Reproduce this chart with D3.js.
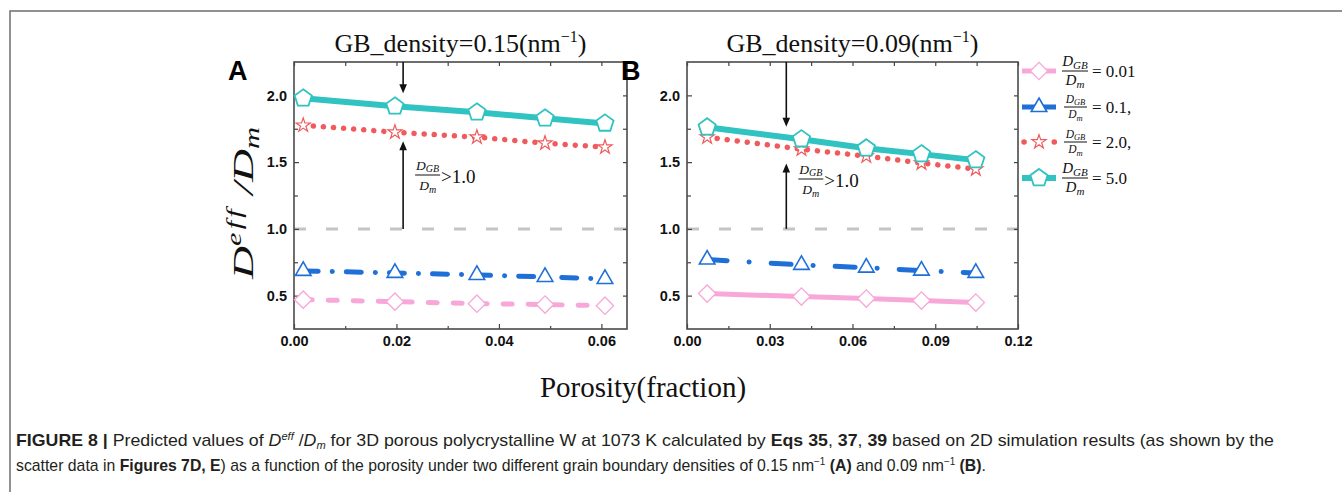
<!DOCTYPE html>
<html>
<head>
<meta charset="utf-8">
<script src="https://cdn.jsdelivr.net/npm/d3@7"></script>
<style>
  body { margin: 0; background: #fff; }
  svg { display: block; }
  .tick text { font-family: Arial, "Liberation Sans", sans-serif; font-weight: bold; font-size: 14.5px; fill: #111; }
</style>
</head>
<body>
<div id="chart"></div>
<script>
// values
const porosityA = [0.0018, 0.0197, 0.0357, 0.049, 0.0607];
const ratio001A = [0.47, 0.455, 0.44, 0.433, 0.425];
const ratio01A = [0.685, 0.67, 0.655, 0.64, 0.625];
const ratio2A = [1.776, 1.724, 1.687, 1.642, 1.612];
const ratio5A = [1.978, 1.918, 1.873, 1.828, 1.79];

const porosityB = [0.0073, 0.0415, 0.065, 0.085, 0.1047];
const ratio001B = [0.515, 0.493, 0.478, 0.463, 0.448];
const ratio01B = [0.77, 0.73, 0.71, 0.687, 0.67];
const ratio2B = [1.687, 1.597, 1.545, 1.493, 1.448];
const ratio5B = [1.761, 1.672, 1.604, 1.56, 1.515];

const seriesLabels = ["0.01", "0.1,", "2.0,", "5.0"];
const titlesDensity = ["0.15", "0.09"];
const panelLetters = ["A", "B"];

const xTicksA = [0, 0.02, 0.04, 0.06];
const xMinorA = [0.01, 0.03, 0.05];
const xTicksB = [0, 0.03, 0.06, 0.09, 0.12];
const xMinorB = [0.015, 0.045, 0.075, 0.105];
const yTicks = [0.5, 1.0, 1.5, 2.0];
const yMinor = [0.75, 1.25, 1.75];

// layout
const WIDTH = 1342, HEIGHT = 492;
const PLOT_TOP = 62, PLOT_BOTTOM = 329;
const Y_DOMAIN = [0.25, 2.25];
const FONT_SERIF = "'Liberation Serif', 'Times New Roman', serif";
const FONT_SANS = "Arial, 'Liberation Sans', sans-serif";

const PINK = "#f7a8d9", BLUE = "#1f6fd8", RED = "#f05a5c", TEAL = "#31c2c2";

// regular pentagon symbol
const symbolPentagon = {
  draw(ctx, size) {
    const r = Math.sqrt(size / 2.3776);
    for (let i = 0; i < 5; i++) {
      const a = -Math.PI / 2 + i * 2 * Math.PI / 5;
      if (i === 0) ctx.moveTo(r * Math.cos(a), r * Math.sin(a));
      else ctx.lineTo(r * Math.cos(a), r * Math.sin(a));
    }
    ctx.closePath();
  }
};

const seriesStyle = [
  { color: PINK, width: 5, symbol: d3.symbolSquare, size: 150, rotate: 45, mstroke: 1.3 },
  { color: BLUE, width: 5, symbol: d3.symbolTriangle, size: 105, rotate: 0, mstroke: 1.6 },
  { color: RED, width: 5.5, symbol: d3.symbolStar, size: 62, rotate: 0, mstroke: 1.2 },
  { color: TEAL, width: 6, symbol: symbolPentagon, size: 195, rotate: 0, mstroke: 1.8 }
];

const panels = [
  {
    left: 294, right: 627, xDomain: [0, 0.065], xTicks: xTicksA, xMinor: xMinorA,
    porosity: porosityA, series: [ratio001A, ratio01A, ratio2A, ratio5A],
    dashes: ["9,16", "15,14,0.1,14", "0.1,10", null],
    arrow: { x: 0.0213, downTip: 2.015, upTip: 1.657 }, noteY: 175,
    yTitle: true
  },
  {
    left: 687, right: 1018, xDomain: [0, 0.12], xTicks: xTicksB, xMinor: xMinorB,
    porosity: porosityB, series: [ratio001B, ratio01B, ratio2B, ratio5B],
    dashes: [null, "20,22,0.1,22", "0.1,10", null],
    arrow: { x: 0.036, downTip: 1.765, upTip: 1.49 }, noteY: 179,
    yTitle: false
  }
];

const svg = d3.select("#chart").append("svg")
  .attr("width", WIDTH).attr("height", HEIGHT);

// figure frame (top and left edge)
svg.append("path").attr("d", `M10,${HEIGHT} V11 H${WIDTH}`)
  .attr("fill", "none").attr("stroke", "#6e6e6e").attr("stroke-width", 1.5);

panels.forEach((p, i) => drawPanel(p, i));
drawLegend();

// shared x axis title
svg.append("text").attr("x", 643).attr("y", 397).attr("text-anchor", "middle")
  .style("font-family", FONT_SERIF).style("font-size", "29px").attr("fill", "#111")
  .text("Porosity(fraction)");

drawCaption();

function drawPanel(p, idx) {
  const x = d3.scaleLinear().domain(p.xDomain).range([p.left, p.right]);
  const y = d3.scaleLinear().domain(Y_DOMAIN).range([PLOT_BOTTOM, PLOT_TOP]);
  const g = svg.append("g");

  // reference line at 1.0
  g.append("line")
    .attr("x1", p.left).attr("x2", p.right).attr("y1", y(1)).attr("y2", y(1))
    .attr("stroke", "#c4c4c4").attr("stroke-width", 3).attr("stroke-dasharray", "12,20");

  // axes with inward ticks
  g.append("g").attr("transform", `translate(0,${PLOT_BOTTOM})`)
    .call(d3.axisBottom(x).tickValues(p.xTicks).tickSize(-5).tickSizeOuter(0).tickPadding(7).tickFormat(d3.format(".2f")));
  g.append("g").attr("transform", `translate(0,${PLOT_BOTTOM})`)
    .call(d3.axisBottom(x).tickValues(p.xMinor).tickSize(-3).tickSizeOuter(0).tickFormat(""));
  g.append("g").attr("transform", `translate(0,${PLOT_TOP})`)
    .call(d3.axisTop(x).tickValues(p.xTicks.concat(p.xMinor)).tickSize(-4).tickSizeOuter(0).tickFormat(""));
  g.append("g").attr("transform", `translate(${p.left},0)`)
    .call(d3.axisLeft(y).tickValues(yTicks).tickSize(-5).tickSizeOuter(0).tickPadding(7).tickFormat(d3.format(".1f")));
  g.append("g").attr("transform", `translate(${p.left},0)`)
    .call(d3.axisLeft(y).tickValues(yMinor).tickSize(-4).tickSizeOuter(0).tickFormat(""));
  g.append("g").attr("transform", `translate(${p.right},0)`)
    .call(d3.axisRight(y).tickValues(yTicks.concat(yMinor)).tickSize(-4).tickSizeOuter(0).tickFormat(""));
  g.selectAll(".domain").remove();
  g.selectAll(".tick line").attr("stroke", "#444").attr("stroke-width", 1.2);

  g.append("rect")
    .attr("x", p.left).attr("y", PLOT_TOP)
    .attr("width", p.right - p.left).attr("height", PLOT_BOTTOM - PLOT_TOP)
    .attr("fill", "none").attr("stroke", "#4a4a4a").attr("stroke-width", 1.6);

  // series lines
  const line = d3.line().x(d => x(d[0])).y(d => y(d[1]));
  p.series.forEach((vals, k) => {
    const st = seriesStyle[k];
    const pts = p.porosity.map((px, j) => [px, vals[j]]);
    g.append("path").datum(pts)
      .attr("d", line)
      .attr("fill", "none")
      .attr("stroke", st.color)
      .attr("stroke-width", st.width)
      .attr("stroke-linecap", p.dashes[k] ? "round" : "butt")
      .attr("stroke-dasharray", p.dashes[k]);
  });
  // markers on top
  p.series.forEach((vals, k) => {
    const st = seriesStyle[k];
    const sym = d3.symbol(st.symbol, st.size);
    g.selectAll(null).data(p.porosity.map((px, j) => [px, vals[j]]))
      .enter().append("path")
      .attr("d", sym)
      .attr("transform", d => `translate(${x(d[0])},${y(d[1])}) rotate(${st.rotate})`)
      .attr("fill", "#fff")
      .attr("stroke", st.color)
      .attr("stroke-width", st.mstroke);
  });

  // arrows
  const ax = x(p.arrow.x);
  drawArrow(g, ax, PLOT_TOP, y(p.arrow.downTip));
  drawArrow(g, ax, y(1), y(p.arrow.upTip));

  // annotation  D_GB / D_m > 1.0
  const nx = ax + 12, ny = p.noteY;
  fraction(g, nx + 12.5, ny, 13.5, 10, 12.5, -5, 15);
  g.append("text").attr("x", nx + 26).attr("y", ny + 8)
    .style("font-family", FONT_SERIF).style("font-size", "19px").attr("fill", "#111")
    .text(">1.0");

  // title
  const t = g.append("text").attr("x", (p.left + p.right) / 2).attr("y", 52)
    .attr("text-anchor", "middle")
    .style("font-family", FONT_SERIF).style("font-size", "26px").attr("fill", "#111");
  t.append("tspan").text(`GB_density=${titlesDensity[idx]}(nm`);
  t.append("tspan").attr("dy", -10).style("font-size", "16px").text("\u22121");
  t.append("tspan").attr("dy", 10).text(")");

  // panel letter
  g.append("text").attr("x", p.left - 66).attr("y", 80)
    .style("font-family", FONT_SANS).style("font-weight", "bold").style("font-size", "27px")
    .attr("fill", "#000").text(panelLetters[idx]);

  if (p.yTitle) {
    const yt = g.append("text").attr("transform", "translate(253,203) rotate(-90)")
      .attr("text-anchor", "middle")
      .attr("textLength", 152).attr("lengthAdjust", "spacingAndGlyphs")
      .style("font-family", FONT_SERIF).style("font-style", "italic").style("font-size", "30px")
      .attr("fill", "#111");
    yt.append("tspan").text("D");
    yt.append("tspan").attr("dy", -12).style("font-size", "20px").style("letter-spacing", "2px").text("eff");
    yt.append("tspan").attr("dy", 12).text(" /D");
    yt.append("tspan").attr("dy", 6).style("font-size", "20px").text("m");
  }
}

function drawArrow(g, x0, yFrom, yTip) {
  const dir = yTip > yFrom ? 1 : -1;
  g.append("line").attr("x1", x0).attr("x2", x0).attr("y1", yFrom).attr("y2", yTip - dir * 6)
    .attr("stroke", "#111").attr("stroke-width", 1.6);
  g.append("path")
    .attr("d", `M${x0 - 3.8},${yTip - dir * 9} L${x0 + 3.8},${yTip - dir * 9} L${x0},${yTip} Z`)
    .attr("fill", "#111");
}

// D_GB over D_m, centred at cx with bar at y
function fraction(g, cx, y, size, subSize, halfBar, numDy, denDy) {
  const fam = FONT_SERIF;
  const num = g.append("text").attr("x", cx).attr("y", y + numDy).attr("text-anchor", "middle")
    .style("font-family", fam).style("font-style", "italic").style("font-size", size + "px").attr("fill", "#111");
  num.append("tspan").text("D");
  num.append("tspan").attr("dy", size * 0.18).style("font-size", subSize + "px").text("GB");
  g.append("line").attr("x1", cx - halfBar).attr("x2", cx + halfBar).attr("y1", y).attr("y2", y)
    .attr("stroke", "#111").attr("stroke-width", 1);
  const den = g.append("text").attr("x", cx).attr("y", y + denDy).attr("text-anchor", "middle")
    .style("font-family", fam).style("font-style", "italic").style("font-size", size + "px").attr("fill", "#111");
  den.append("tspan").text("D");
  den.append("tspan").attr("dy", size * 0.22).style("font-size", subSize + "px").text("m");
}

function drawLegend() {
  const rows = [71, 107, 142, 178];
  const big = [true, false, false, true];
  const lg = svg.append("g");
  seriesLabels.forEach((lab, k) => {
    const st = seriesStyle[k];
    const yy = rows[k];
    const ln = lg.append("line").attr("y1", yy).attr("y2", yy)
      .attr("stroke", st.color).attr("stroke-width", st.width);
    if (k === 2) {
      ln.attr("x1", 1024).attr("x2", 1055).attr("stroke-linecap", "round").attr("stroke-dasharray", "0.1,15");
    } else {
      ln.attr("x1", 1022).attr("x2", 1056);
    }
    lg.append("path").attr("d", d3.symbol(st.symbol, st.size))
      .attr("transform", `translate(1039,${yy}) rotate(${st.rotate})`)
      .attr("fill", "#fff").attr("stroke", st.color).attr("stroke-width", st.mstroke);
    if (big[k]) fraction(lg, 1075, yy, 15, 11, 13, -5, 14);
    else fraction(lg, 1075.5, yy, 11.5, 8.5, 11.5, -4, 11);
    lg.append("text").attr("x", 1092).attr("y", yy + 6)
      .style("font-family", FONT_SERIF).style("font-size", "17px").attr("fill", "#111")
      .text("= " + lab);
  });
}

function drawCaption() {
  const line1 = [
    { t: "FIGURE 8 | ", b: 1 }, { t: "Predicted values of " }, { t: "D", i: 1 }, { t: "eff", i: 1, s: "sup" },
    { t: " /" }, { t: "D", i: 1 }, { t: "m", i: 1, s: "sub" },
    { t: " for 3D porous polycrystalline W at 1073 K calculated by " }, { t: "Eqs 35", b: 1 }, { t: ", " },
    { t: "37", b: 1 }, { t: ", " }, { t: "39", b: 1 }, { t: " based on 2D simulation results (as shown by the" }
  ];
  const line2 = [
    { t: "scatter data in " }, { t: "Figures 7D, E", b: 1 },
    { t: ") as a function of the porosity under two different grain boundary densities of 0.15 nm" },
    { t: "\u22121", s: "sup" }, { t: " " }, { t: "(A)", b: 1 }, { t: " and 0.09 nm" }, { t: "\u22121", s: "sup" },
    { t: " " }, { t: "(B)", b: 1 }, { t: "." }
  ];
  captionLine(line1, 446, 1259);
  captionLine(line2, 471, 971);
}

function captionLine(parts, baseY, targetW) {
  const g = svg.append("g");
  const txt = g.append("text").attr("x", 0).attr("y", 0)
    .style("font-family", "'Liberation Sans Narrow', 'Arial Narrow', Arial, sans-serif")
    .style("font-size", "16px").attr("fill", "#231f20");
  let shift = 0;
  parts.forEach(pt => {
    const want = pt.s === "sup" ? -6 : pt.s === "sub" ? 3 : 0;
    const ts = txt.append("tspan").attr("dy", want - shift).text(pt.t);
    shift = want;
    if (pt.b) ts.style("font-weight", "bold");
    if (pt.i) ts.style("font-style", "italic");
    if (pt.s) ts.style("font-size", "10px");
  });
  const w = txt.node().getComputedTextLength();
  g.attr("transform", `translate(16,${baseY}) scale(${targetW / w},1)`);
}
</script>
</body>
</html>
